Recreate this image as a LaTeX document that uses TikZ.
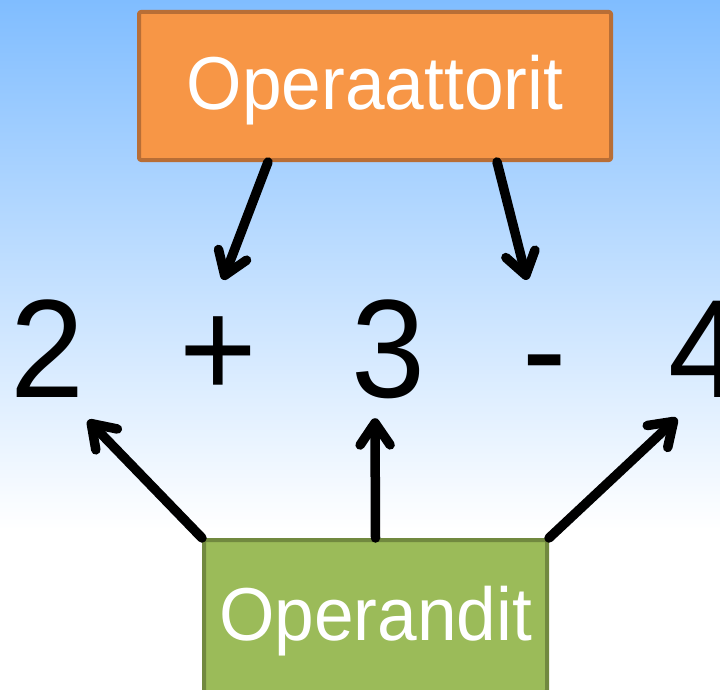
\documentclass[tikz,border=0pt]{standalone}
\usepackage{fontspec}
\setmainfont{Liberation Sans}[FakeStretch=0.95]
\usetikzlibrary{arrows.meta}
\definecolor{skyblue}{RGB}{128,189,255}
\definecolor{oporange}{RGB}{247,150,70}
\definecolor{opborder}{RGB}{184,110,54}
\definecolor{adgreen}{RGB}{155,187,89}
\definecolor{adborder}{RGB}{113,137,63}
\begin{document}
\begin{tikzpicture}[x=1pt, y=-1pt, line cap=round, line join=round,
    box/.style={draw, line width=4pt, rounded corners=2pt, text=white, inner sep=0pt,
      text height=53pt, text depth=5pt, font=\fontsize{75}{80}\selectfont},
    num/.style={anchor=base, inner sep=0pt, text height=100pt, text depth=0pt,
      font=\fontsize{140}{150}\selectfont},
    arr/.style={line width=9.5pt, -{Straight Barb[length=22pt,width=30pt,round]}}]
  \useasboundingbox (0,0) rectangle (720,690);
  \clip (0,0) rectangle (720,690);
  % background
  \shade[top color=skyblue, bottom color=white] (0,0) rectangle (720,530);
  \fill[white] (0,530) rectangle (720,690);
  % boxes
  \node[box, fill=oporange, draw=opborder, minimum width=472pt, minimum height=148pt] (ops) at (375,86) {Operaattorit};
  \node[box, fill=adgreen, draw=adborder, minimum width=343pt, minimum height=152pt] (ands) at (375.5,616) {Operandit};
  % the expression
  \node[num] (two) at (47,397) {2};
  \node[num] (plus) at (218,397) {+};
  \node[num] (three) at (388,397) {3};
  \node[num] (minus) at (545,397) {-};
  \node[num] (four) at (705,397) {4};
  % arrows
  \draw[arr] ([xshift=-107pt]ops.south) -- ([xshift=5pt,yshift=17pt]plus.north);
  \draw[arr] ([xshift=122pt]ops.south) -- ([xshift=-18pt,yshift=17pt]minus.north);
  \draw[arr] (ands.north west) -- ([xshift=41pt,yshift=-23pt]two.south);
  \draw[arr] (ands.north) -- ([xshift=-13pt,yshift=-21pt]three.south);
  \draw[arr] (ands.north east) -- ([xshift=-28pt,yshift=-21pt]four.south);
\end{tikzpicture}
\end{document}
